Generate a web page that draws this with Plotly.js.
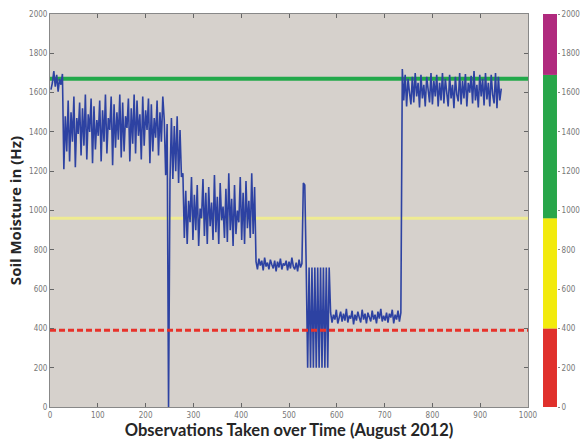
<!DOCTYPE html>
<html>
<head>
<meta charset="utf-8">
<script src="https://cdn.plot.ly/plotly-3.0.1.min.js"></script>
<style>html,body{margin:0;padding:0;background:#fff}#chart{width:588px;height:445px}</style>
</head>
<body>
<div id="chart"></div>
<script>
// Observation index starts at 2 and advances by 3 per reading
var obsStart = 2;
var obsStep = 3;
// Soil moisture readings (Hz)
var moisture = [
 1615,1650,1710,1630,1690,1605,1670,1640,1695,
 1210,1480,1300,1560,1250,1500,1350,1580,1220,1470,
 1390,1550,1280,1520,1330,1590,1260,1490,1400,1570,
 1240,1530,1310,1460,1380,1560,1250,1510,1350,1590,
 1290,1470,1410,1580,1230,1540,1320,1500,1360,1590,
 1270,1550,1300,1480,1420,1570,1250,1520,1340,1590,
 1290,1560,1380,1490,1260,1580,1330,1510,1410,1570,
 1240,1540,1300,1470,1370,1560,1280,1500,1350,1580,
 1460,1180,1440,0,1150,1470,1160,1430,1200,1480,1140,1410,1170,
 1190,860,1100,830,1050,940,1170,850,1080,900,
 1130,820,1010,960,1160,870,1090,830,1120,920,
 1040,850,1180,890,1070,830,1140,950,1020,860,
 1110,840,1190,900,1060,820,1130,880,1000,940,
 1170,850,1090,830,1150,910,1050,860,1190,880,1120,
 740,700,755,720,745,695,760,715,735,700,
 750,725,705,745,690,740,710,755,700,730,
 720,745,695,740,705,760,715,700,735,690,
 750,710,730,
 1140,1130,
 710,200,710,200,710,200,710,200,710,200,710,200,710,200,710,200,710,
 480,430,470,445,495,425,460,485,435,475,
 440,500,430,465,450,490,420,470,440,485,
 455,430,495,445,475,425,480,460,435,490,
 445,470,425,485,450,500,435,465,440,480,
 430,475,455,495,425,470,445,490,435,480,
 1720,
 1560,1690,1530,1670,1600,1540,1680,1550,1700,1580,
 1650,1525,1690,1570,1640,1530,1680,1600,1550,1700,
 1540,1660,1580,1690,1530,1650,1560,1700,1545,1670,
 1600,1530,1690,1570,1640,1520,1680,1590,1555,1700,
 1540,1660,1570,1695,1530,1650,1600,1685,1545,1710,
 1560,1640,1525,1690,1580,1670,1535,1700,1565,1650,
 1530,1690,1590,1545,1700,1520,1680,1560,1620
];
// Threshold lines
var thresholdSpan = [0, 1000];
var greenLevel = 1670;
var yellowLevel = 960;
var redLevel = 390;
// Colour scale bands (Hz)
var bandBase = [0, 400, 960, 1690];
var bandTop = [400, 960, 1690, 2000];
var bandColors = ['#e0302c', '#f2ea0c', '#28a64a', '#b02a7e'];
// Tick labels
var xTicks = [0,100,200,300,400,500,600,700,800,900,1000];
var yTicks = [0,200,400,600,800,1000,1200,1400,1600,1800,2000];

var bandSizes = bandTop.map(function(t,i){return t - bandBase[i];});

var tickFont = {family:'"DejaVu Sans Condensed","Liberation Sans Narrow",sans-serif', size:8, color:'#777'};
var xTitleFont = {family:'Lato, "Open Sans", sans-serif', size:16.5, color:'#262626', weight:'bold'};
var yTitleFont = {family:'"Open Sans", sans-serif', size:15, color:'#262626', weight:'bold'};

var traces = [
 {type:'scatter', mode:'lines', x:thresholdSpan, y:[greenLevel,greenLevel], line:{color:'#22a84a', width:4}, xaxis:'x', yaxis:'y', hoverinfo:'skip'},
 {type:'scatter', mode:'lines', x:thresholdSpan, y:[yellowLevel,yellowLevel], line:{color:'#efeb92', width:3}, xaxis:'x', yaxis:'y', hoverinfo:'skip'},
 {type:'scatter', mode:'lines', y:moisture, x0:obsStart, dx:obsStep, line:{color:'#2d42a2', width:1.6}, xaxis:'x', yaxis:'y'},
 {type:'scatter', mode:'lines', x:thresholdSpan, y:[redLevel,redLevel], line:{color:'#e8322a', width:3, dash:'6px,3px'}, xaxis:'x', yaxis:'y', hoverinfo:'skip'},
 {type:'bar', x:[0,0,0,0], y:bandSizes, base:bandBase, width:1, marker:{color:bandColors, line:{width:0}}, xaxis:'x2', yaxis:'y2', hoverinfo:'skip'}
];

var layout = {
 width:588, height:445,
 margin:{l:50, r:30, t:14, b:38},
 paper_bgcolor:'#ffffff',
 plot_bgcolor:'#d6d1cc',
 showlegend:false,
 barmode:'overlay',
 xaxis:{domain:[0,0.941], range:[0,1000], tickvals:xTicks, ticktext:xTicks.map(String), ticks:'inside', ticklen:4, tickcolor:'#666', showgrid:false, zeroline:false, showline:true, linecolor:'#888', linewidth:1, mirror:'ticks', tickfont:tickFont,
   title:{text:'Observations Taken over Time (August 2012)', font:xTitleFont, standoff:2}},
 yaxis:{domain:[0,1], range:[0,2000], tickvals:yTicks, ticktext:yTicks.map(String), ticks:'inside', ticklen:4, tickcolor:'#666', showgrid:false, zeroline:false, showline:true, linecolor:'#888', linewidth:1, mirror:'ticks', tickfont:tickFont,
   title:{text:'Soil Moisture in (Hz)', font:yTitleFont, standoff:3}},
 xaxis2:{domain:[0.9705,0.998], range:[-0.5,0.5], anchor:'y2', showticklabels:false, ticks:'', showgrid:false, zeroline:false, showline:false},
 yaxis2:{domain:[0,1], range:[0,2000], anchor:'x2', side:'right', tickvals:yTicks, ticktext:yTicks.map(String), ticks:'outside', ticklen:2, tickcolor:'#888', showgrid:false, zeroline:false, showline:false, tickfont:tickFont}
};

Plotly.newPlot('chart', traces, layout, {staticPlot:true, displayModeBar:false});
</script>
</body>
</html>
